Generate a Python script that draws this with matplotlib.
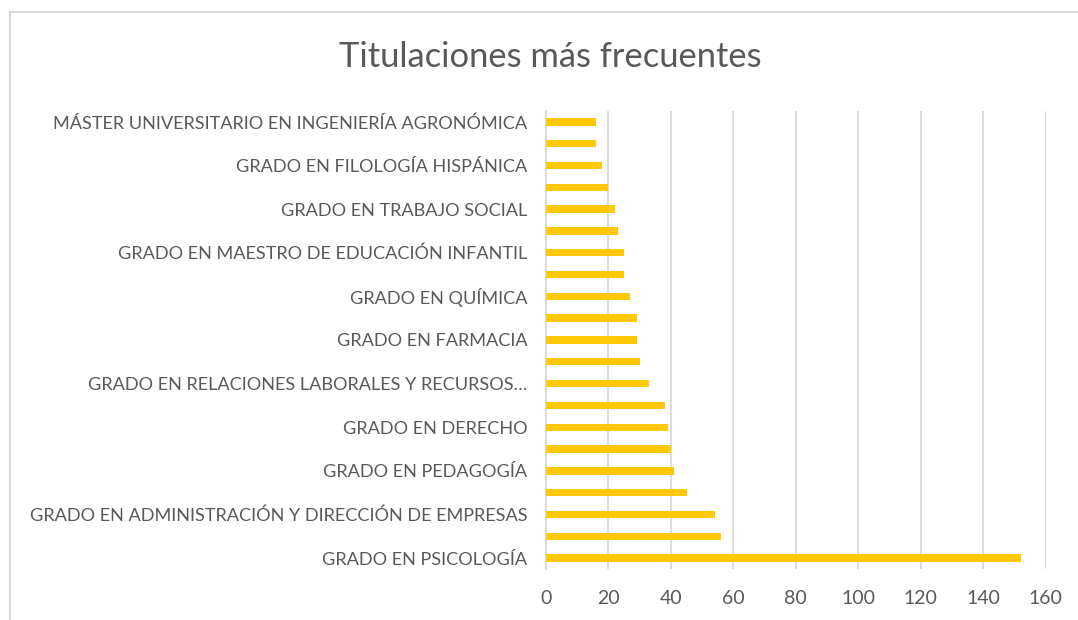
import matplotlib.pyplot as plt
from matplotlib.lines import Line2D

# top-to-bottom as shown in the chart; unlabeled rows are skipped by the axis
categories = [
    "MÁSTER UNIVERSITARIO EN INGENIERÍA AGRONÓMICA", "",
    "GRADO EN FILOLOGÍA HISPÁNICA", "",
    "GRADO EN TRABAJO SOCIAL", "",
    "GRADO EN MAESTRO DE EDUCACIÓN INFANTIL", "",
    "GRADO EN QUÍMICA", "",
    "GRADO EN FARMACIA", "",
    "GRADO EN RELACIONES LABORALES Y RECURSOS…", "",
    "GRADO EN DERECHO", "",
    "GRADO EN PEDAGOGÍA", "",
    "GRADO EN ADMINISTRACIÓN Y DIRECCIÓN DE EMPRESAS", "",
    "GRADO EN PSICOLOGÍA",
]
values = [16, 16, 18, 20, 22, 23, 25, 25, 27, 29, 29, 30, 33, 38, 39, 40, 41, 45, 54, 56, 152]
xticks = [0, 20, 40, 60, 80, 100, 120, 140, 160]

BAR = "#FFC907"
TXT = "#595959"
GRID = "#D9D9D9"

plt.rcParams["font.family"] = ["Lato", "DejaVu Sans"]

fig = plt.figure(figsize=(10.78, 6.2), dpi=100)
ax = fig.add_axes([0.5065, 0.0823, 0.4635, 0.7387])

n = len(values)
ypos = list(range(n - 1, -1, -1))
ax.barh(ypos, values, height=0.34, color=BAR, zorder=3)

ax.set_xlim(0, 160)
ax.set_ylim(-0.5, n - 0.5)
ax.set_xticks(xticks)
ax.set_xticklabels([str(t) for t in xticks], fontsize=14, color=TXT)
ax.set_yticks(ypos)
ax.set_yticklabels(categories, fontsize=13.1, color=TXT)
ax.tick_params(axis="x", length=0, pad=15)
ax.tick_params(axis="y", length=0, pad=13.5)

ax.grid(axis="x", color=GRID, lw=1.3, zorder=0)
for s in ["top", "right", "bottom"]:
    ax.spines[s].set_visible(False)
ax.spines["left"].set_color(GRID)
ax.spines["left"].set_linewidth(1.3)

fig.text(0.5102, 0.908, "Titulaciones más frecuentes", ha="center", va="center",
         fontsize=24.8, color=TXT)

# chart frame (only left and top edges are visible in the source)
fig.add_artist(Line2D([9.5 / 1078, 9.5 / 1078], [0, 1 - 12 / 620], color=GRID, lw=1.5))
fig.add_artist(Line2D([9.5 / 1078, 1], [1 - 12 / 620, 1 - 12 / 620], color=GRID, lw=1.5))

fig.savefig("out.png", dpi=100)
